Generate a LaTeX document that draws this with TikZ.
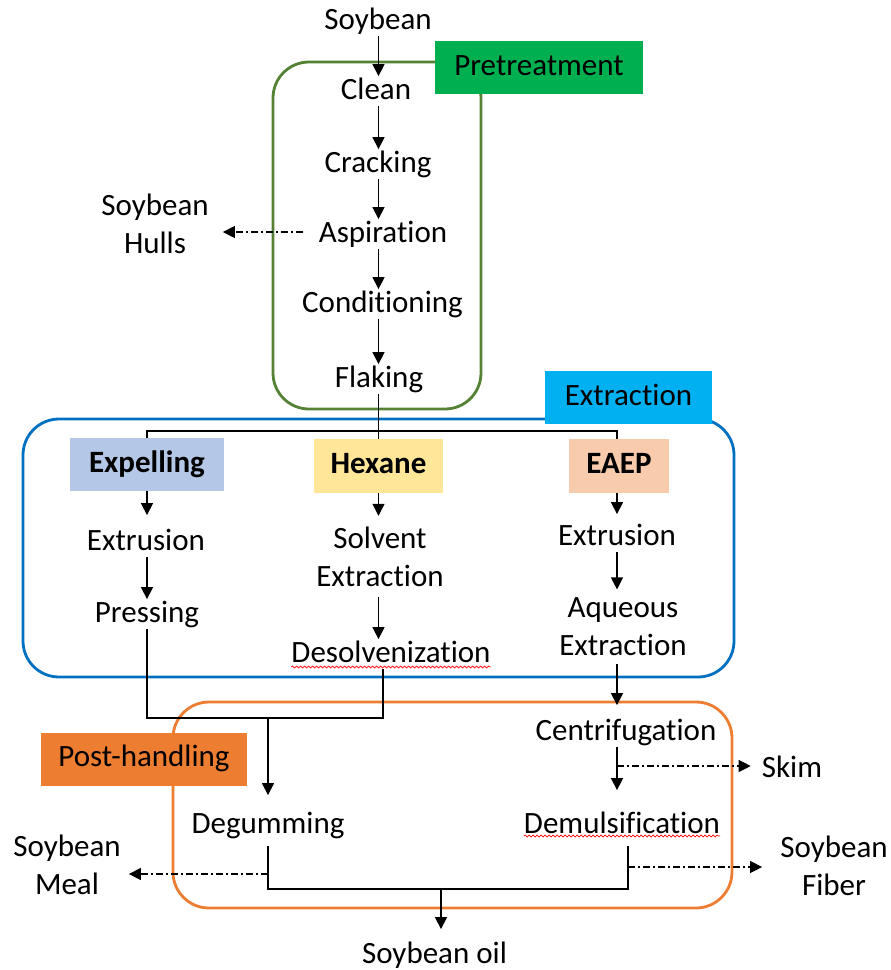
\documentclass[tikz,border=0pt]{standalone}
\usepackage{fontspec}
\setmainfont{Carlito}[Ligatures=NoCommon]
\usetikzlibrary{arrows.meta,decorations.pathmorphing}

\definecolor{pretreatline}{RGB}{84,130,53}
\definecolor{pretreatfill}{RGB}{0,176,80}
\definecolor{extractline}{RGB}{0,112,192}
\definecolor{extractfill}{RGB}{0,176,240}
\definecolor{postline}{RGB}{237,125,49}
\definecolor{postfill}{RGB}{237,125,49}
\definecolor{expelfill}{RGB}{180,199,231}
\definecolor{hexfill}{RGB}{255,230,153}
\definecolor{eaepfill}{RGB}{248,203,173}

\begin{document}
\begin{tikzpicture}[x=1pt,y=-1pt,
  every node/.style={font=\fontsize{31}{37.5}\selectfont},
  txt/.style={inner xsep=0pt, inner ysep=1pt, text height=21.7pt, text depth=6.2pt, anchor=base},
  txttwo/.style={inner xsep=0pt, inner ysep=1pt, align=center, anchor=base},
  tag/.style={minimum height=53pt, inner sep=0pt, text height=21.7pt, text depth=6.2pt},
  method/.style={tag, font=\fontsize{31}{37.5}\selectfont\bfseries},
  flow/.style={line width=1.3pt, draw=black},
  arr/.style={flow, -{Triangle[length=12pt,width=12pt]}},
  side/.style={line width=1.1pt, dash pattern=on 7pt off 3pt on 2pt off 3pt, -{Triangle[length=12pt,width=12pt]}},
  stage/.style={line width=2.8pt, rounded corners=36pt},
  spell/.style={draw=red, line width=0.7pt, decorate, decoration={snake, amplitude=1pt, segment length=4pt}}
]
\useasboundingbox (0,0) rectangle (891,970);

% stage frames
\draw[stage, draw=pretreatline] (273,62) rectangle (481,409);
\draw[stage, draw=extractline] (23,419) rectangle (734,677);
\draw[stage, draw=postline] (173,702) rectangle (732,908);

% column guides and junctions
\coordinate (c1) at (147,0);
\coordinate (c2) at (378.5,0);
\coordinate (c3) at (617,0);
\coordinate (br) at (378.5,431);
\coordinate (jn) at (268,718);
\coordinate (bj) at (441,889);
\coordinate (sk) at (617,766);
\coordinate (mj) at (268,874);
\coordinate (fj) at (628,867);

% pretreatment steps
\node[txt] (soy) at (378,29) {Soybean};
\node[txt] (clean) at (376,99) {Clean};
\node[txt] (crack) at (378,172) {Cracking};
\node[txt] (asp) at (383,242) {Aspiration};
\node[txt] (cond) at (382.5,312) {Conditioning};
\node[txt] (flak) at (379,387) {Flaking};
\node[txttwo] (hulls) at (155,253) {Soybean\\Hulls};

% extraction methods
\node[method, fill=expelfill, minimum width=154pt] (expel) at (147,464.5) {Expelling};
\node[method, fill=hexfill, minimum width=129pt, minimum height=54pt] (hex) at (378.5,466) {Hexane};
\node[method, fill=eaepfill, minimum width=100pt, minimum height=54pt] (eaep) at (619,466) {EAEP};

\node[txt] (ex1) at (146,550) {Extrusion};
\node[txt] (press) at (147,622) {Pressing};
\node[txttwo] (solv) at (380,586) {Solvent\\Extraction};
\node[txt] (deso) at (391,662) {Desolvenization};
\node[txt] (ex2) at (617,545) {Extrusion};
\node[txttwo] (aq) at (623,655) {Aqueous\\Extraction};

% post-handling steps
\node[txt] (cent) at (626,740) {Centrifugation};
\node[txt] (skim) at (792,777) {Skim};
\node[txt] (degum) at (268,833) {Degumming};
\node[txt] (demul) at (622,833) {Demulsification};
\node[txttwo] (meal) at (67,894) {Soybean\\Meal};
\node[txttwo] (fiber) at (834,895) {Soybean\\Fiber};
\node[txt] (oil) at (434.5,963) {Soybean oil};

% spelling marks
\draw[spell] ([yshift=-5pt]deso.base west) -- ([yshift=-5pt]deso.base east);
\draw[spell] ([yshift=-3pt]demul.base west) -- ([yshift=-3pt]demul.base east);

% pretreatment flow
\draw[arr] (soy.south -| c2) -- (clean.north -| c2);
\draw[arr] (clean.south -| c2) -- (crack.north -| c2);
\draw[arr] (crack.south -| c2) -- (asp.north -| c2);
\draw[arr] (asp.south -| c2) -- (cond.north -| c2);
\draw[arr] (cond.south -| c2) -- (flak.north -| c2);
\coordinate (aspout) at ([yshift=10pt]asp.base west);
\draw[side, shorten <=16pt, shorten >=14pt] (aspout) -- (aspout -| hulls.east);

% split into the three methods
\draw[flow] (flak.south -| c2) -- (hex.north);
\draw[flow] (expel.north) |- (br) -| (eaep.north -| c3);

% expelling
\draw[arr, shorten >=12pt] (expel.south) -- (ex1.north -| c1);
\draw[arr] (ex1.south -| c1) -- (press.north -| c1);
\draw[flow] (press.south -| c1) |- (jn) -| ([xshift=-8pt]deso.south);
\draw[arr, shorten >=15pt] (jn) -- (degum.north);

% hexane
\draw[arr, shorten >=10pt] (hex.south) -- (solv.north -| c2);
\draw[arr, shorten <=10pt] (solv.south -| c2) -- (deso.north -| c2);

% EAEP
\draw[arr, shorten >=8pt] (eaep.south -| c3) -- (ex2.north -| c3);
\draw[arr, shorten >=7pt] (ex2.south -| c3) -- (aq.north -| c3);
\draw[arr, shorten <=8pt, shorten >=12pt] (aq.south -| c3) -- (cent.north -| c3);
\draw[arr, shorten >=20pt] (cent.south -| c3) -- (demul.north -| c3);
\draw[side, shorten >=11pt] (sk) -- (sk -| skim.west);

% outputs
\draw[flow, shorten <=6pt, shorten >=6pt] (degum.south) -- (degum.south |- bj) -| ([xshift=6pt]demul.south);
\draw[arr, shorten >=11pt] (bj) -- (oil.north -| bj);
\draw[side, shorten >=8pt] (mj) -- (mj -| meal.east);
\draw[side, shorten >=18pt] (fj) -- (fj -| fiber.west);

% stage tags
\node[tag, fill=pretreatfill, minimum width=208pt] (pre) at (539,67.5) {Pretreatment};
\node[tag, fill=extractfill, minimum width=167pt] (ext) at (628.5,397.5) {Extraction};
\node[tag, fill=postfill, minimum width=206pt] (post) at (144,759) {Post-handling};
\end{tikzpicture}
\end{document}
